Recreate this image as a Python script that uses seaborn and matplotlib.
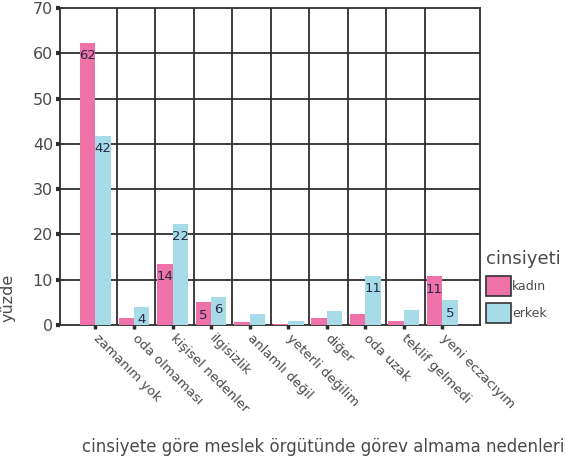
import pandas as pd
import matplotlib
matplotlib.use("Agg")
import matplotlib.pyplot as plt
import seaborn as sns

nedenler = ["zamanım yok", "oda olmaması", "kişisel nedenler", "ilgisizlik",
            "anlamlı değil", "yeterli değilim", "diğer", "oda uzak",
            "teklif gelmedi", "yeni eczacıyım"]
kadin = [62.3, 1.6, 13.5, 5.0, 0.6, 0.3, 1.6, 2.4, 0.9, 10.8]
erkek = [41.8, 4.0, 22.4, 6.2, 2.4, 0.8, 3.2, 10.9, 3.3, 5.5]
kadin_etiket = ["62", "", "14", "5", "", "", "", "", "", "11"]
erkek_etiket = ["42", "4", "22", "6", "", "", "", "11", "", "5"]
gruplar = ["kadın", "erkek"]

df = pd.concat([
    pd.DataFrame({"neden": nedenler, "yuzde": kadin, "cinsiyet": "kadın"}),
    pd.DataFrame({"neden": nedenler, "yuzde": erkek, "cinsiyet": "erkek"}),
])

sns.set_style("white")
plt.rcParams["font.family"] = ["DejaVu Sans"]

renkler = {"kadın": "#ee71a8", "erkek": "#a7dbe8"}
koyu = "#2e2e2e"
yazi = "#4a4a4a"

fig = plt.figure(figsize=(5.66, 4.63), dpi=100)
ax = fig.add_axes([60 / 566, 1 - 325 / 463, 420 / 566, 317 / 463])

sns.barplot(data=df, x="neden", y="yuzde", hue="cinsiyet", hue_order=gruplar,
            palette=renkler, saturation=1, width=0.8, linewidth=0,
            ax=ax, legend=True, zorder=3)

for bars, etiket in zip(ax.containers, [kadin_etiket, erkek_etiket]):
    ax.bar_label(bars, labels=etiket, padding=-14, fontsize=9.5, color="#262a48")

ax.set_ylim(0, 70)
ax.set_xlim(-0.92, 9.98)
ax.set_yticks(range(0, 71, 10))
for y in range(10, 70, 10):
    ax.axhline(y, color=koyu, lw=1.3, zorder=1)
for i in range(9):
    ax.axvline(i + 0.55, color=koyu, lw=1.3, zorder=1)

for s in ax.spines.values():
    s.set_color(koyu)
    s.set_linewidth(1.3)

ax.tick_params(axis="y", direction="out", length=3, width=3, color=koyu,
               labelsize=11.5, labelcolor=yazi, pad=2, left=True)
ax.tick_params(axis="x", direction="out", length=3, width=2.5, color=koyu,
               labelsize=9.5, labelcolor=yazi, pad=5, bottom=True)
ax.set_xticks(range(len(nedenler)))
ax.set_xticklabels(nedenler, rotation=-45, ha="left", va="center",
                   rotation_mode="anchor")

ax.set_xlabel("")
ax.set_ylabel("yüzde", fontsize=11.5, color=yazi)
ax.yaxis.set_label_coords(-0.107, 0.085)

fig.text(0.998, 1 - 447 / 463, "cinsiyete göre meslek örgütünde görev almama nedenleri",
         ha="right", va="center", fontsize=12, color=yazi)

handles, labels = ax.get_legend_handles_labels()
ax.get_legend().remove()
leg = fig.legend(handles, labels, title="cinsiyeti", loc="upper left",
                 bbox_to_anchor=(486 / 566, 1 - 250 / 463), frameon=False,
                 fontsize=9, title_fontsize=13, handlelength=2.0,
                 handleheight=2.1, handletextpad=0.1, labelspacing=0.6,
                 borderaxespad=0, borderpad=0, alignment="left")
leg.get_title().set_color(yazi)
for p in leg.get_patches():
    p.set_edgecolor("#333333")
    p.set_linewidth(1.2)
for t in leg.get_texts():
    t.set_color(yazi)

fig.savefig("out.png", dpi=100)
